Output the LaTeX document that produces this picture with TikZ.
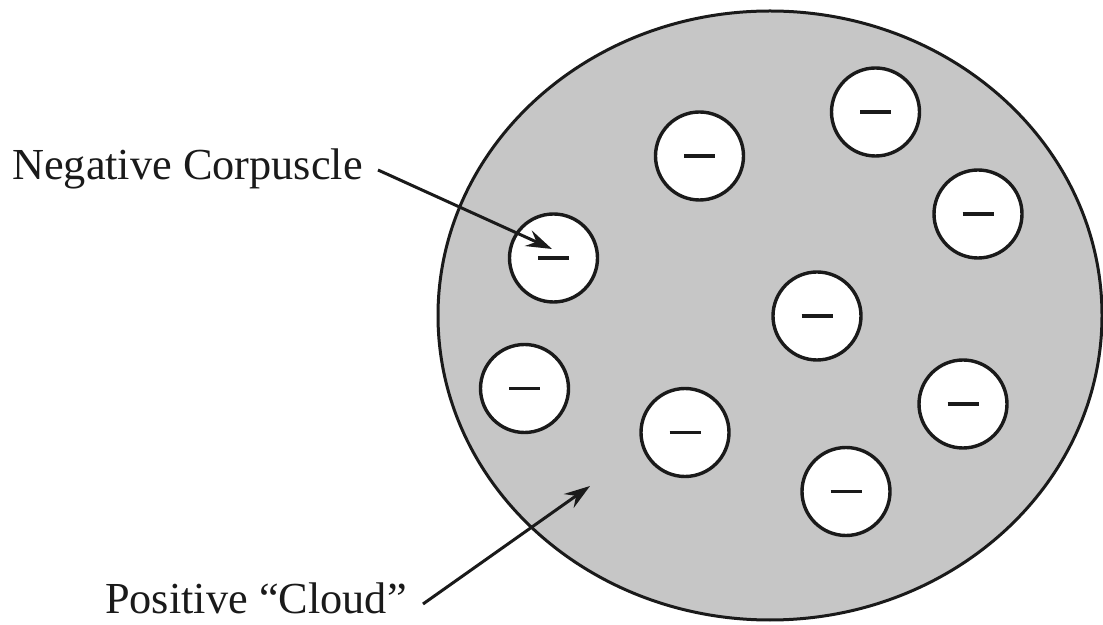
\documentclass[tikz,border=0pt]{standalone}
\usepackage{fontspec}
\setmainfont{Liberation Serif}
\usetikzlibrary{arrows.meta}
\definecolor{cloudgray}{HTML}{C6C6C6}
\definecolor{ink}{HTML}{1A1A1A}
\tikzset{
  corp/.style={circle, draw=ink, line width=3.4pt, fill=white, minimum size=88pt, inner sep=0pt},
  lbl/.style={font=\fontsize{44.3}{50}\selectfont, text=ink, inner sep=0pt},
  pointer/.style={draw=ink, line width=3pt, -{Stealth[length=26pt, width=17pt, inset=9pt]}}
}
\newcommand{\minusbar}{\textcolor{ink}{\rule[-1.7pt]{31pt}{3.4pt}}}
\begin{document}
\begin{tikzpicture}[x=1pt, y=1pt]
\useasboundingbox (0,0) rectangle (1103,624);
\draw[ink, line width=3pt, fill=cloudgray] (770,308.5) ellipse [x radius=332, y radius=304.5];
\node[corp] (c1) at (553.5,366) {\minusbar};
\node[corp] (c2) at (699.5,468) {\minusbar};
\node[corp] (c3) at (875.5,512) {\minusbar};
\node[corp] (c4) at (978,410) {\minusbar};
\node[corp] (c5) at (817,308) {\minusbar};
\node[corp] (c6) at (524.5,235.5) {\minusbar};
\node[corp] (c7) at (685,191.5) {\minusbar};
\node[corp] (c8) at (963,220) {\minusbar};
\node[corp] (c9) at (846,132.5) {\minusbar};
\node[lbl, anchor=base west] (neg) at (12,444) {Negative Corpuscle};
\node[lbl, anchor=base west] (pos) at (105,10.5) {Positive “Cloud”};
\coordinate (negstart) at (378,454);
\coordinate (negtip) at (552,375);
\coordinate (posstart) at (423,20);
\coordinate (postip) at (590,138);
\draw[pointer] (negstart) -- (negtip);
\draw[pointer] (posstart) -- (postip);
\end{tikzpicture}
\end{document}
